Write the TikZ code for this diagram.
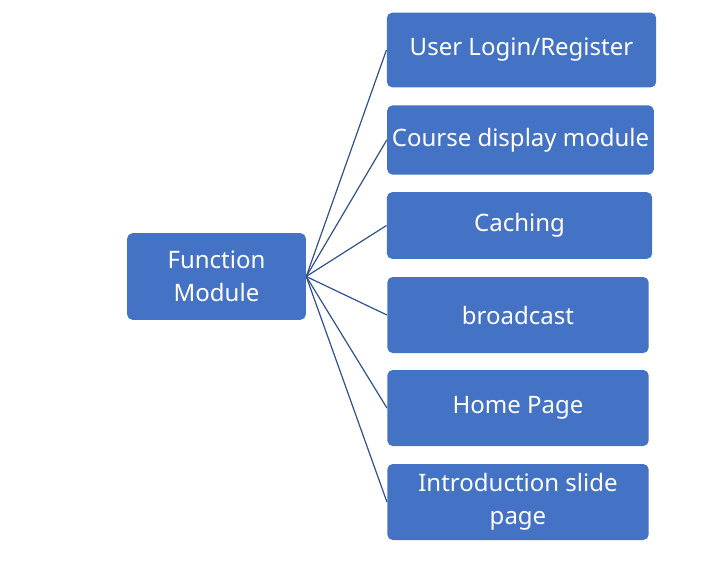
\documentclass[tikz,border=0pt]{standalone}
\usepackage{fontspec}
\setmainfont{Noto Sans}
\usepackage{tikz}
\usetikzlibrary{positioning}
\definecolor{boxblue}{HTML}{4472C4}
\definecolor{lineblue}{HTML}{2F528F}
\tikzset{main node/.style={rectangle,rounded corners=4pt,fill=boxblue,draw=none,text=white,
    font=\fontsize{18}{24.5}\selectfont,align=center,inner sep=0pt},}

\begin{document}
\begin{tikzpicture}[x=0.75pt,y=-0.75pt,semithick]
    \useasboundingbox (0,0) rectangle (721,565);
    \node[main node,minimum width=134pt,minimum height=65pt] (root) at (216.5,276.5) {Function\\Module};
    \node[main node,minimum width=202pt,minimum height=56pt] (login) at (521.5,50) {User Login/Register};
    \node[main node,minimum width=200pt,minimum height=52pt] (course) at (520.5,140) {Course display module};
    \node[main node,minimum width=199pt,minimum height=50pt] (cache) at (519.5,225.5) {Caching};
    \node[main node,minimum width=196pt,minimum height=57pt] (cast) at (518,315) {broadcast};
    \node[main node,minimum width=196pt,minimum height=57pt] (home) at (518,408) {Home Page};
    \node[main node,minimum width=196pt,minimum height=57pt] (intro) at (518,502) {Introduction slide\\page};

    \path[draw,lineblue,line width=0.9pt]
    (root.east) edge (login.west)
    (root.east) edge (course.west)
    (root.east) edge (cache.west)
    (root.east) edge (cast.west)
    (root.east) edge (home.west)
    (root.east) edge (intro.west);
\end{tikzpicture}
\end{document}
